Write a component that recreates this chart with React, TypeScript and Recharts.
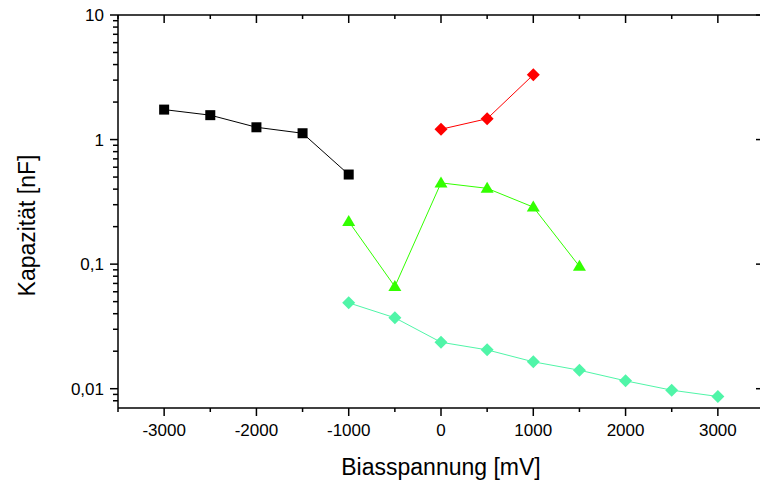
import { LineChart, Line, XAxis, YAxis, Label } from 'recharts';

// Biasspannung (mV) and Kapazität (nF) per sample series
const blackX = [-3000, -2500, -2000, -1500, -1000];
const blackY = [1.74, 1.57, 1.255, 1.124, 0.524];

const redX = [0, 500, 1000];
const redY = [1.21, 1.47, 3.31];

const greenX = [-1000, -500, 0, 500, 1000, 1500];
const greenY = [0.22, 0.0661, 0.449, 0.406, 0.287, 0.096];

const mintX = [-1000, -500, 0, 500, 1000, 1500, 2000, 2500, 3000];
const mintY = [0.0489, 0.0371, 0.0236, 0.0205, 0.01644, 0.01407, 0.01157, 0.00973, 0.00866];

const xMajor = [-3000, -2000, -1000, 0, 1000, 2000, 3000];
const xAll = [-3500, -3000, -2500, -2000, -1500, -1000, -500, 0, 500, 1000, 1500, 2000, 2500, 3000, 3500];
const yMajor = [0.01, 0.1, 1, 10];
const yAll = [
  0.008, 0.009, 0.01, 0.02, 0.03, 0.04, 0.05, 0.06, 0.07, 0.08, 0.09,
  0.1, 0.2, 0.3, 0.4, 0.5, 0.6, 0.7, 0.8, 0.9,
  1, 2, 3, 4, 5, 6, 7, 8, 9, 10,
];

const FONT = '"Liberation Sans", Arial, sans-serif';
const AXIS = { stroke: '#000', strokeWidth: 1.5 };

const toRows = (xs: number[], ys: number[]) => xs.map((x, i) => ({ x, y: ys[i] }));

const fmtY = (v: number) => String(v).replace('.', ',');

const BottomTick = (props: any) => {
  const { x, y, payload } = props;
  const major = xMajor.includes(payload.value);
  return (
    <g>
      <line x1={x} y1={y} x2={x} y2={y + (major ? 8 : 4)} {...AXIS} />
      {major && (
        <text x={x} y={y + 22} dy="0.35em" textAnchor="middle" fontSize={17} fontFamily={FONT} fill="#000">
          {payload.value}
        </text>
      )}
    </g>
  );
};

const TopTick = (props: any) => {
  const { x, y, payload } = props;
  const major = xMajor.includes(payload.value);
  return <line x1={x} y1={y} x2={x} y2={y + (major ? 8 : 4)} {...AXIS} />;
};

const LeftTick = (props: any) => {
  const { x, y, payload } = props;
  const major = yMajor.includes(payload.value);
  return (
    <g>
      <line x1={x} y1={y} x2={x - (major ? 8 : 5)} y2={y} {...AXIS} />
      {major && (
        <text x={x - 14} y={y} dy="0.35em" textAnchor="end" fontSize={17} fontFamily={FONT} fill="#000">
          {fmtY(payload.value)}
        </text>
      )}
    </g>
  );
};

const RightTick = (props: any) => {
  const { x, y, payload } = props;
  if (!yMajor.includes(payload.value)) return <g />;
  return <line x1={x} y1={y} x2={x - 8} y2={y} {...AXIS} />;
};

const square = (color: string) => (p: any) => {
  const { cx, cy, key } = p;
  if (cx == null || cy == null) return <g key={key} />;
  return <rect key={key} x={cx - 5} y={cy - 5} width={10} height={10} fill={color} />;
};

const diamond = (color: string) => (p: any) => {
  const { cx, cy, key } = p;
  if (cx == null || cy == null) return <g key={key} />;
  const r = 6.5;
  return <path key={key} d={`M${cx},${cy - r}L${cx + r},${cy}L${cx},${cy + r}L${cx - r},${cy}Z`} fill={color} />;
};

const triangle = (color: string) => (p: any) => {
  const { cx, cy, key } = p;
  if (cx == null || cy == null) return <g key={key} />;
  return <path key={key} d={`M${cx},${cy - 6.5}L${cx + 6.5},${cy + 4.5}L${cx - 6.5},${cy + 4.5}Z`} fill={color} />;
};

const YTitle = (props: any) => {
  const vb = props.viewBox;
  const cx = 27;
  const cy = vb.y + vb.height / 2 + 14;
  return (
    <text x={cx} y={cy} dy="0.35em" transform={`rotate(-90, ${cx}, ${cy})`} textAnchor="middle" fontSize={23} fontFamily={FONT} fill="#000">
      Kapazität [nF]
    </text>
  );
};

export default function App() {
  return (
    <div style={{ position: 'absolute', left: 0, top: 0, width: 760, height: 485, overflow: 'hidden', background: '#fff' }}>
      <LineChart width={780} height={485} margin={{ top: 0, right: 0, bottom: 0, left: 0 }}>
        <XAxis
          xAxisId="b"
          dataKey="x"
          type="number"
          domain={[-3500, 3500]}
          ticks={xAll}
          interval={0}
          allowDataOverflow
          height={77}
          axisLine={AXIS}
          tickLine={false}
          tickSize={0}
          tickMargin={0}
          tick={<BottomTick />}
        >
          <Label value="Biasspannung [mV]" position="insideBottom" offset={10} fontSize={23} fontFamily={FONT} fill="#000" />
        </XAxis>
        <XAxis
          xAxisId="t"
          orientation="top"
          dataKey="x"
          type="number"
          domain={[-3500, 3500]}
          ticks={xAll}
          interval={0}
          allowDataOverflow
          height={15}
          axisLine={AXIS}
          tickLine={false}
          tickSize={0}
          tickMargin={0}
          tick={<TopTick />}
        />
        <YAxis
          yAxisId="l"
          type="number"
          scale="log"
          domain={[0.007, 10]}
          ticks={yAll}
          interval={0}
          allowDataOverflow
          width={118}
          axisLine={AXIS}
          tickLine={false}
          tickSize={0}
          tickMargin={0}
          tick={<LeftTick />}
        >
          <Label content={<YTitle />} />
        </YAxis>
        <YAxis
          yAxisId="r"
          orientation="right"
          type="number"
          scale="log"
          domain={[0.007, 10]}
          ticks={yAll}
          interval={0}
          allowDataOverflow
          width={16}
          axisLine={AXIS}
          tickLine={false}
          tickSize={0}
          tickMargin={0}
          tick={<RightTick />}
        />
        <Line xAxisId="b" yAxisId="l" data={toRows(blackX, blackY)} dataKey="y" stroke="#000" strokeWidth={1} dot={square('#000')} isAnimationActive={false} />
        <Line xAxisId="b" yAxisId="l" data={toRows(redX, redY)} dataKey="y" stroke="#ff0000" strokeWidth={1} dot={diamond('#ff0000')} isAnimationActive={false} />
        <Line xAxisId="b" yAxisId="l" data={toRows(greenX, greenY)} dataKey="y" stroke="#33ff00" strokeWidth={1} dot={triangle('#33ff00')} isAnimationActive={false} />
        <Line xAxisId="b" yAxisId="l" data={toRows(mintX, mintY)} dataKey="y" stroke="#50f5a8" strokeWidth={1} dot={diamond('#50f5a8')} isAnimationActive={false} />
      </LineChart>
    </div>
  );
}
